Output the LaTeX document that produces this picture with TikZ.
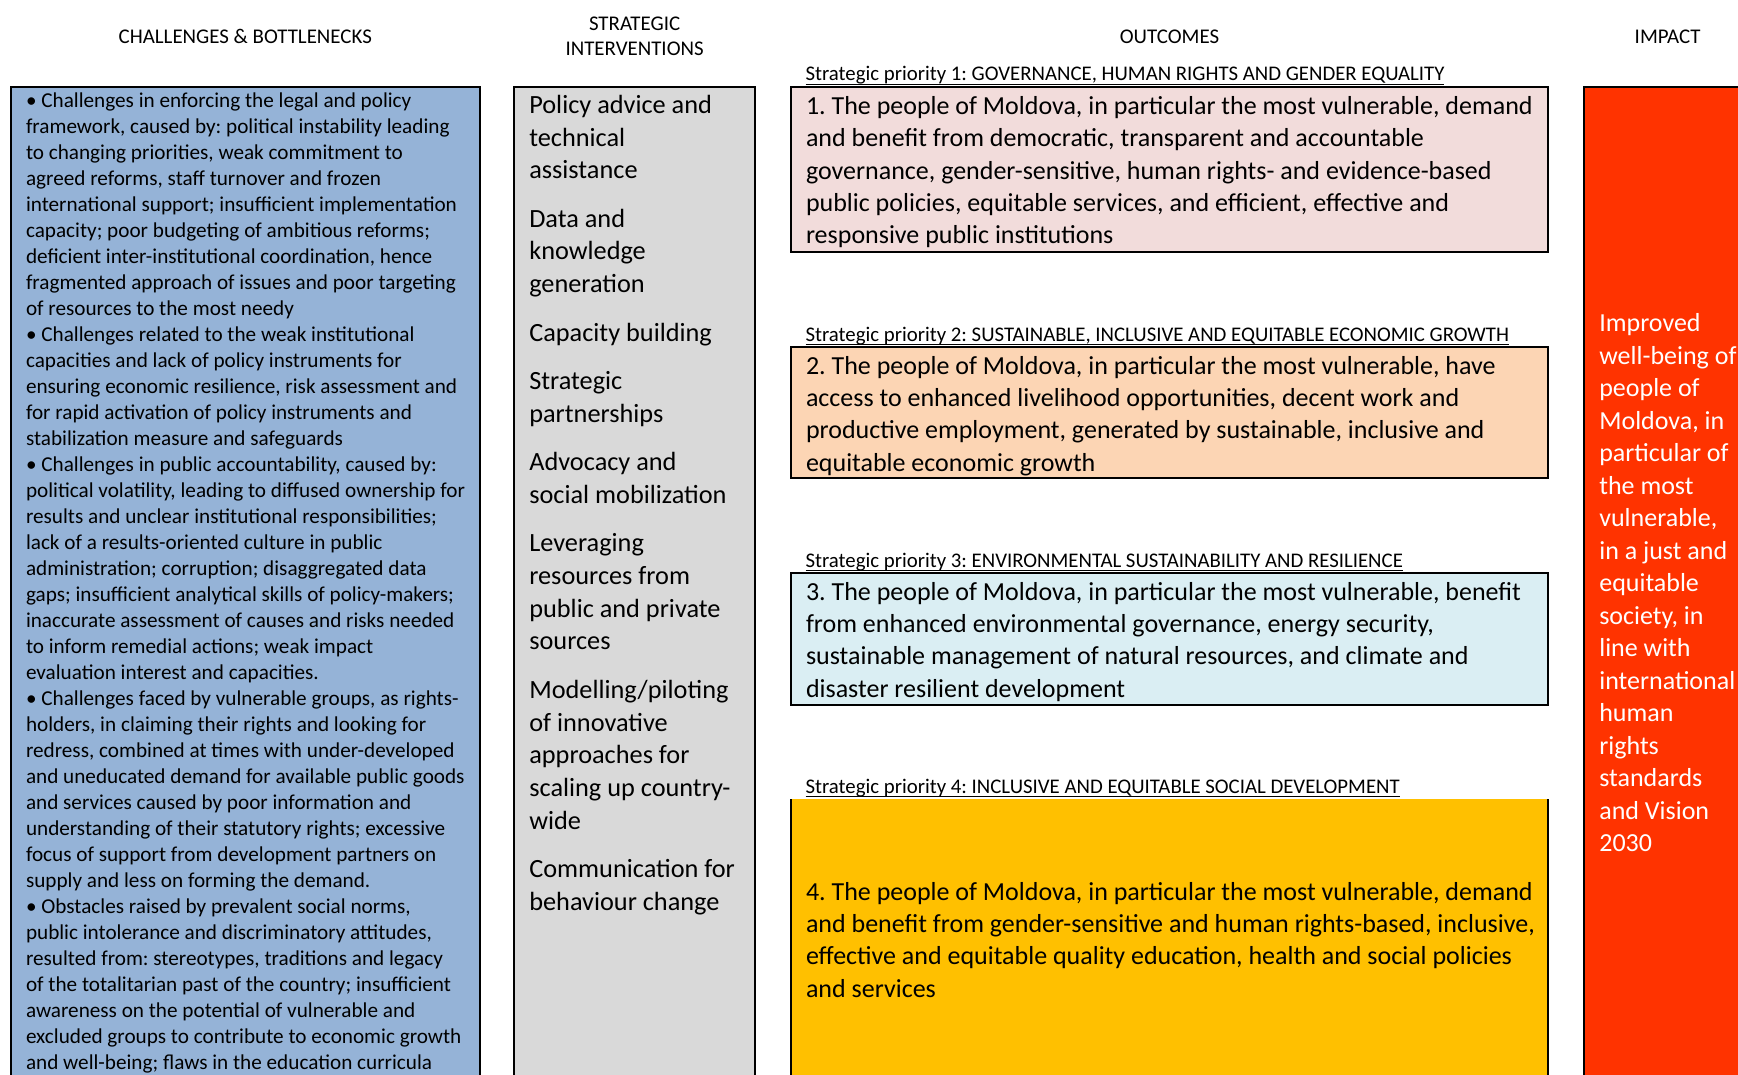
\documentclass[tikz,border=0pt]{standalone}
\usepackage{fontspec}
\setmainfont{Carlito}
\frenchspacing
\definecolor{chalblue}{HTML}{95B3D7}
\definecolor{intgray}{HTML}{D9D9D9}
\definecolor{outpink}{HTML}{F2DCDB}
\definecolor{outpeach}{HTML}{FCD5B4}
\definecolor{outaqua}{HTML}{DAEEF3}
\definecolor{outgold}{HTML}{FFC000}
\definecolor{impred}{HTML}{FF3300}
\newcommand{\myblock}[4]{\begin{minipage}[t]{#1}\fontsize{#2}{#3}\selectfont\frenchspacing\raggedright #4\end{minipage}}
\begin{document}
\begin{tikzpicture}[x=1pt,y=-1pt,
  frame/.style={draw=black,line width=2pt},
  txt/.style={inner sep=0pt,outer sep=0pt,anchor=base west},
  hdr/.style={inner sep=0pt,outer sep=0pt,anchor=base,font=\fontsize{20.9}{25}\selectfont},
  splabel/.style={inner sep=0pt,outer sep=0pt,anchor=base west,font=\fontsize{20.8}{24}\selectfont},
  uline/.style={line width=1.2pt}]
\clip (0,0) rectangle (1738,1075);
\fill[white] (0,0) rectangle (1738,1075);
% headers
\node[hdr] (hchal) at (245.3,43.5) {CHALLENGES \& BOTTLENECKS};
\node[hdr] (hint) at (634.6,31) {\begin{minipage}[t]{220pt}\centering\fontsize{20.9}{25}\selectfont STRATEGIC\\INTERVENTIONS\end{minipage}};
\node[hdr] (hout) at (1169.5,43.5) {OUTCOMES};
\node[hdr] (himp) at (1667.6,43.5) {IMPACT};
% boxes
\draw[frame,fill=chalblue] (10.7,86.7) rectangle (480,1095);
\draw[frame,fill=intgray] (514.3,87.3) rectangle (755,1095);
\draw[frame,fill=outpink] (791,86.7) rectangle (1548.3,252);
\draw[frame,fill=outpeach] (791,347.3) rectangle (1548.3,477.7);
\draw[frame,fill=outaqua] (791,573) rectangle (1548.3,705);
\fill[outgold] (791,799) rectangle (1548.3,1095);
\draw[line width=2pt] (791,799) -- (791,1095);
\draw[line width=2pt] (1548.3,799) -- (1548.3,1095);
\draw[frame,fill=impred] (1584,86.7) rectangle (1780,1095);
% challenges text
\node[txt] (chal) at (26,107.7) {\myblock{460pt}{21.2}{26}{%
• Challenges in enforcing the legal and policy\\
framework, caused by: political instability leading\\
to changing priorities, weak commitment to\\
agreed reforms, staff turnover and frozen\\
international support; insufficient implementation\\
capacity; poor budgeting of ambitious reforms;\\
deficient inter-institutional coordination, hence\\
fragmented approach of issues and poor targeting\\
of resources to the most needy\\
• Challenges related to the weak institutional\\
capacities and lack of policy instruments for\\
ensuring economic resilience, risk assessment and\\
for rapid activation of policy instruments and\\
stabilization measure and safeguards\\
• Challenges in public accountability, caused by:\\
political volatility, leading to diffused ownership for\\
results and unclear institutional responsibilities;\\
lack of a results-oriented culture in public\\
administration; corruption; disaggregated data\\
gaps; insufficient analytical skills of policy-makers;\\
inaccurate assessment of causes and risks needed\\
to inform remedial actions; weak impact\\
evaluation interest and capacities.\\
• Challenges faced by vulnerable groups, as rights-\\
holders, in claiming their rights and looking for\\
redress, combined at times with under-developed\\
and uneducated demand for available public goods\\
and services caused by poor information and\\
understanding of their statutory rights; excessive\\
focus of support from development partners on\\
supply and less on forming the demand.\\
• Obstacles raised by prevalent social norms,\\
public intolerance and discriminatory attitudes,\\
resulted from: stereotypes, traditions and legacy\\
of the totalitarian past of the country; insufficient\\
awareness on the potential of vulnerable and\\
excluded groups to contribute to economic growth\\
and well-being; flaws in the education curricula}};
% interventions text
\node[txt] (inter) at (529.3,113.3) {\myblock{230pt}{26.3}{32.8}{%
Policy advice and\\ technical\\ assistance\\[15.5pt]
Data and\\ knowledge\\ generation\\[15.5pt]
Capacity building\\[15.5pt]
Strategic\\ partnerships\\[15.5pt]
Advocacy and\\ social mobilization\\[15.5pt]
Leveraging\\ resources from\\ public and private\\ sources\\[15.5pt]
Modelling/piloting\\ of innovative\\ approaches for\\ scaling up country-\\ wide\\[15.5pt]
Communication for\\ behaviour change}};
% strategic priority labels
\node[splabel] (sp1) at (805.6,81) {Strategic priority 1: GOVERNANCE, HUMAN RIGHTS AND GENDER EQUALITY};
\node[splabel] (sp2) at (805.6,341.3) {Strategic priority 2: SUSTAINABLE, INCLUSIVE AND EQUITABLE ECONOMIC GROWTH};
\node[splabel] (sp3) at (805.6,567) {Strategic priority 3: ENVIRONMENTAL SUSTAINABILITY AND RESILIENCE};
\node[splabel] (sp4) at (805.6,793) {Strategic priority 4: INCLUSIVE AND EQUITABLE SOCIAL DEVELOPMENT};
\foreach \s in {sp1,sp2,sp3,sp4}
  \draw[uline] ([yshift=-3.6pt]\s.base west) -- ([yshift=-3.6pt]\s.base east);
% outcomes text
\node[txt] (out1) at (806,114.3) {\myblock{740pt}{26}{32.4}{%
1. The people of Moldova, in particular the most vulnerable, demand\\
and benefit from democratic, transparent and accountable\\
governance, gender-sensitive, human rights- and evidence-based\\
public policies, equitable services, and efficient, effective and\\
responsive public institutions}};
\node[txt] (out2) at (806,374) {\myblock{740pt}{26}{32.4}{%
2. The people of Moldova, in particular the most vulnerable, have\\
access to enhanced livelihood opportunities, decent work and\\
productive employment, generated by sustainable, inclusive and\\
equitable economic growth}};
\node[txt] (out3) at (806,600) {\myblock{740pt}{26}{32.4}{%
3. The people of Moldova, in particular the most vulnerable, benefit\\
from enhanced environmental governance, energy security,\\
sustainable management of natural resources, and climate and\\
disaster resilient development}};
\node[txt] (out4) at (806,900) {\myblock{740pt}{26}{32.4}{%
4. The people of Moldova, in particular the most vulnerable, demand\\
and benefit from gender-sensitive and human rights-based, inclusive,\\
effective and equitable quality education, health and social policies\\
and services}};
% impact text
\node[txt,text=white] (imp) at (1599.3,331.7) {\myblock{160pt}{26}{32.5}{%
Improved\\ well-being of\\ people of\\ Moldova, in\\ particular of\\ the most\\ vulnerable,\\ in a just and\\ equitable\\ society, in\\ line with\\ international\\ human\\ rights\\ standards\\ and Vision\\ 2030}};
\end{tikzpicture}
\end{document}
